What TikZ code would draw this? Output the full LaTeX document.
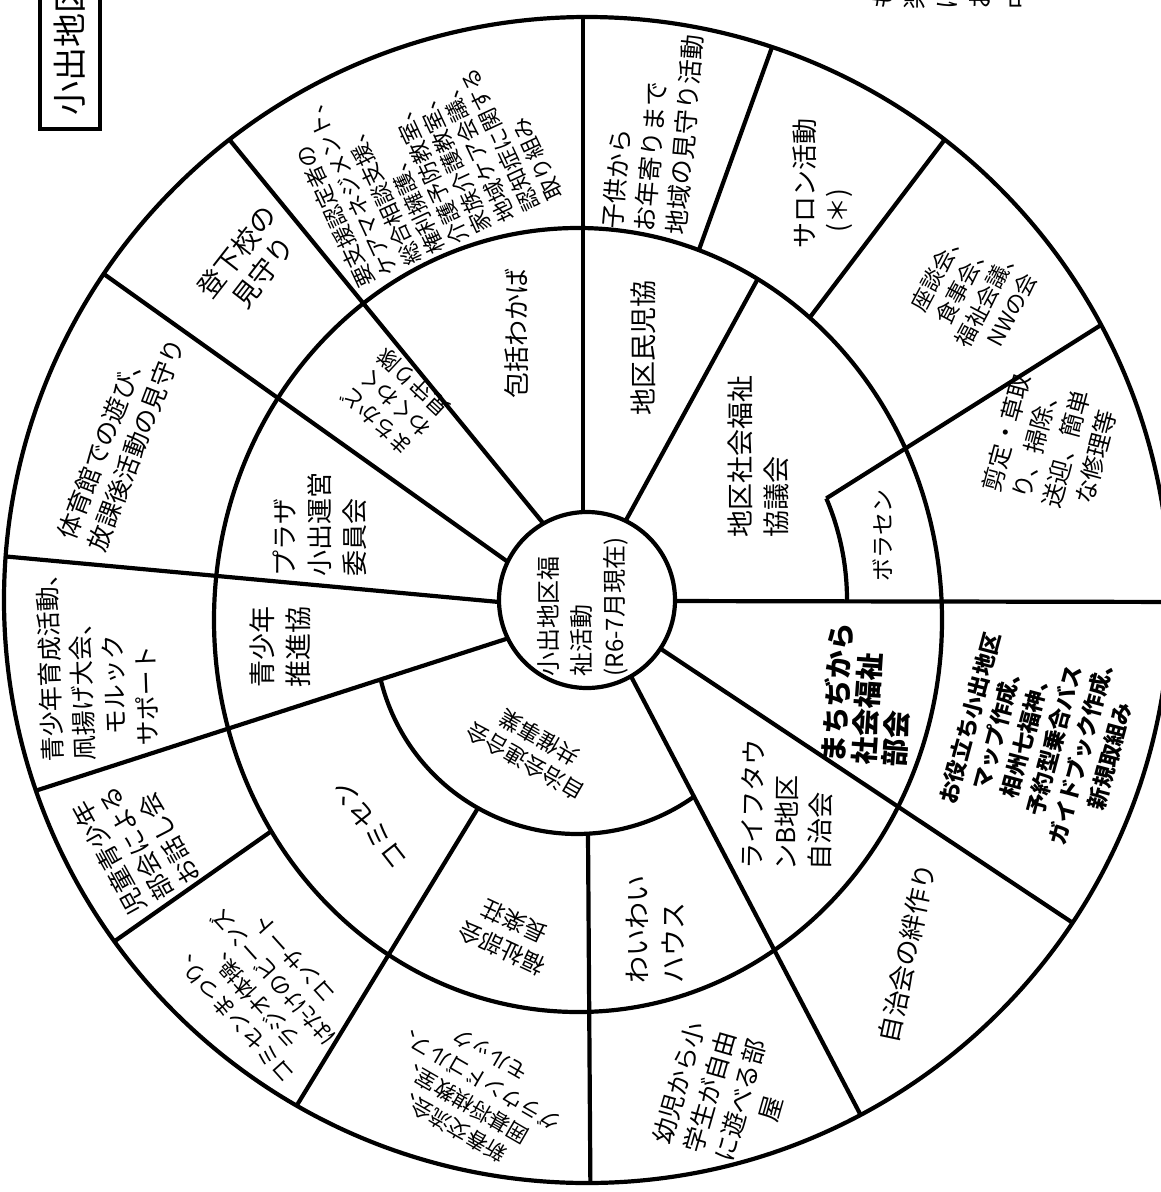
\documentclass[tikz,border=0pt]{standalone}
\usepackage{fontspec}
\newfontfamily\jp{Noto Sans CJK JP}
\begin{document}
\begin{tikzpicture}[x=1pt,y=-1pt,
  wl/.style={line width=4.2pt},
  fz/.style 2 args={font={\jp\fontsize{#1}{#2}\selectfont}, inner sep=0pt},
  fzb/.style 2 args={font={\jp\bfseries\fontsize{#1}{#2}\selectfont}, inner sep=0pt},
  la/.style={align=left},
  ca/.style={align=center}]
\useasboundingbox (0,0) rectangle (1161,1192);
\clip (0,0) rectangle (1161,1192);
\fill[white] (0,0) rectangle (1161,1192);

% spokes crossing both rings
\begin{scope}
  \clip (587,600) circle[radius=583];
  \draw[wl] (583,530) -- (583,0);
  \draw[wl] (660,601) -- (1200,602);
  \draw[wl] (652,643) -- (1100,941);
  \draw[wl] (627.4,669.4) -- (880,1152);
  \draw[wl] (514.4,636.3) -- (10,799);
  \draw[wl] (510,603) -- (-10,555);
  \draw[wl] (517.8,569) -- (80,257);
  \draw[wl] (550.6,532.3) -- (215,122);
  \draw[wl] (826.3,498.4) -- (1120,313);
  \draw[wl] (478,808) -- (280,1133);
  \draw[wl] (588,834) -- (590.5,1200);
\end{scope}
% inner-only spoke
\begin{scope}
  \clip (578,620) ellipse[x radius=364, y radius=392];
  \draw[wl] (620.2,530.8) -- (767,262);
\end{scope}
% outer-only spokes
\begin{scope}
  \clip (587,600) circle[radius=583];
  \begin{scope}[even odd rule]
    \clip (0,0) rectangle (1161,1192) (578,620) ellipse[x radius=364, y radius=392];
    \draw[wl] (691.5,270.5) -- (780,25);
    \draw[wl] (795,337) -- (955,126);
    \draw[wl] (290.5,817.7) -- (95,955);
  \end{scope}
\end{scope}
% rings
\draw[wl] (578,620) ellipse[x radius=364, y radius=392];
\draw[wl] (587,600) circle[radius=583];
\draw[wl] (577,632) ++(166.3:202) arc[start angle=166.3, end angle=54.6, radius=202];
\draw[wl] (587,600) ++(0:260) arc[start angle=0, end angle=-23, radius=260];
\draw[wl, fill=white] (587,600) circle[radius=88];

% title box and cut text
\draw[line width=3.2pt] (40,-20) rectangle (100,129);
\node[fz={34}{34}, rotate=90, anchor=west] (title) at (70,116) {小出地区};
\foreach \xx/\ch in {883/も,914/楽,947/ほ,980/お,1017/中}
  \node[fz={25}{25}, rotate=90, anchor=west] (tr\xx) at (\xx,10) {\ch};

% centre and inner ring
\node[fz={24}{33}, la, rotate=90] (ctr) at (583,607) {小出地区福\\祉活動\\(R6-7月現在)};
\node[fz={27}{36}, la, rotate=90] (chiku) at (758,456) {地区社会福祉\\協議会};
\node[fz={23}{23}, rotate=90] (bora) at (883,535) {ボラセン};
\node[fz={27}{27}, rotate=90] (minji) at (643,348) {地区民児協};
\node[fz={26}{26}, rotate=90] (hokatsu) at (517,333) {包括わかば};
\node[fz={22}{27}, ca, rotate=137] (yu) at (395,402) {まちかど\\わくわく\\見守り隊};
\node[fz={26}{35}, la, rotate=90] (plaza) at (320,524) {プラザ\\小出運営\\委員会};
\node[fz={27}{36}, la, rotate=90] (seisho) at (280,647) {青少年\\推進協};
\node[fz={22}{28}, ca, rotate=150] (jichi) at (532,750) {自治会連合会\\共催事業};
\node[fz={26}{26}, rotate=128] (komisen) at (370,825) {コミセン};
\node[fz={23}{30}, ca, rotate=155] (fukushi) at (508,935) {福祉部会\\長楽荘};
\node[fz={27}{36}, la, rotate=90] (waiwai) at (655,929) {わいわい\\ハウス};
\node[fz={26}{34}, la, rotate=89] (life) at (787,805) {ライフタウ\\ンB地区\\自治会};
\node[fzb={28}{31}, la, rotate=86] (machi) at (868,695) {まちぢから\\社会福祉\\部会};

% outer ring
\node[fz={25}{32}, la, rotate=85] (kodomo) at (653,132) {子供から\\お年寄りまで\\地域の見守り活動};
\node[fz={26}{33}, la, rotate=90] (salon) at (823,183) {サロン活動\\\hspace*{0.6em}(＊)};
\node[fz={22}{28}, ca, rotate=62] (kairan) at (975,290) {座談会、\\食事会、\\福祉会議、\\NWの会};
\node[fz={24}{31}, ca, rotate=75] (sentei) at (1051,445) {剪定・草取\\り、掃除、\\送迎、簡単\\な修理等};
\node[fzb={22}{29}, ca, rotate=75] (oyaku) at (1040,737) {お役立ち小出地区\\マップ作成、\\相州七福神、\\予約型乗合バス\\ガイドブック作成、\\新規取組み};
\node[fz={26}{26}, rotate=78] (kizuna) at (907,953) {自治会の絆作り};
\node[fz={25}{32}, ca, rotate=74] (yoji) at (725,1096) {幼児から小\\学生が自由\\に遊べる部\\屋};
\node[fz={21}{27}, ca, rotate=150] (shinshun) at (470,1090) {新春交流会、\\囲碁将棋教室、\\グラウンドゴルフ、\\モルック};
\node[fz={22}{28}, ca, rotate=132] (matsuri) at (263,987) {コミセンまつり、\\ラジオ体操、\\はたけのビーンズ\\コンサート};
\node[fz={25}{31}, la, rotate=119] (jido) at (136,843) {児童青少年\\部会による\\お話し会};
\node[fz={25}{32}, la, rotate=92] (ikusei) at (97,660) {青少年育成活動、\\凧揚げ大会、\\\hspace*{1em}モルック\\\hspace*{0.5em}サポート};
\node[fz={25}{32}, la, rotate=69] (taiiku) at (121,439) {体育館での遊び、\\放課後活動の見守り};
\node[fz={27}{33}, ca, rotate=52] (tokou) at (250,262) {登下校の\\見守り};
\node[fz={22}{26}, la, rotate=115] (yoshien) at (420,153) {要支援認定者の\\ケアマネジメント、\\総合相談支援、\\権利擁護、\\介護予防教室、\\家族介護教室、\\地域ケア会議、\\認知症に関する\\取り組み};
\end{tikzpicture}
\end{document}
